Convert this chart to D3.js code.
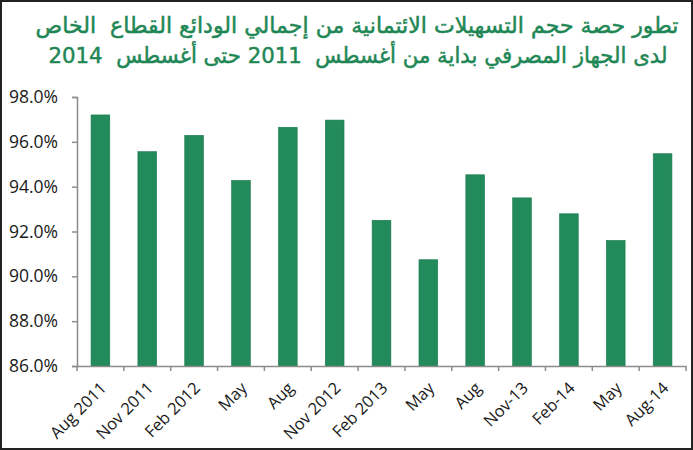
<!DOCTYPE html>
<html><head><meta charset="utf-8">
<script src="https://cdn.jsdelivr.net/npm/d3@7"></script>
<style>
html,body{margin:0;padding:0;background:#fff;}
svg{display:block;}
</style></head>
<body>
<script>
const categories = ["Aug 2011","Nov 2011","Feb 2012","May","Aug","Nov 2012","Feb 2013","May","Aug","Nov-13","Feb-14","May","Aug-14"];
const values = [97.2, 95.56, 96.29, 94.28, 96.65, 96.97, 92.5, 90.74, 94.53, 93.5, 92.79, 91.6, 95.47];
const yTicks = [86, 88, 90, 92, 94, 96, 98];
const titleLines = ["تطور حصة حجم التسهيلات الائتمانية من إجمالي الودائع القطاع  الخاص", "لدى الجهاز المصرفي بداية من أغسطس  2011 حتى أغسطس  2014"];

const W = 693, H = 450;
const svg = d3.select("body").append("svg").attr("width", W).attr("height", H);
svg.append("rect").attr("x",1).attr("y",1).attr("width",W-2).attr("height",H-2)
  .attr("fill","#fff").attr("stroke","#222").attr("stroke-width",2);

const green = "#238a5b";
const x = d3.scaleBand().domain(d3.range(categories.length)).range([77, 686]).paddingInner(0.6).paddingOuter(0.3);
const y = d3.scaleLinear().domain([86, 98]).range([366, 97]);

// title
const titleGeom = [{cx: 357, y: 33, len: 643}, {cx: 358, y: 63, len: 619}];
svg.append("g").selectAll("text").data(titleLines).join("text")
  .attr("x", (d,i)=>titleGeom[i].cx).attr("y", (d,i)=>titleGeom[i].y)
  .attr("text-anchor","middle").attr("direction","rtl")
  .style("white-space","pre")
  .attr("textLength",(d,i)=>titleGeom[i].len).attr("lengthAdjust","spacingAndGlyphs")
  .attr("font-family","DejaVu Sans").attr("font-weight","normal").attr("font-size", 22)
  .attr("fill", "#1f8755").attr("stroke","#1f8755").attr("stroke-width",0.5).text(d=>d);

// bars
svg.append("g").selectAll("rect").data(values).join("rect")
  .attr("x", (d,i)=>x(i)).attr("width", x.bandwidth())
  .attr("y", d=>y(d)).attr("height", d=>y(86)-y(d))
  .attr("fill", green).attr("stroke","#1b7a4e").attr("stroke-width",0.6);

// y axis
const yAxis = svg.append("g").attr("transform","translate(77,0)")
  .call(d3.axisLeft(y).tickValues(yTicks).tickSize(5).tickPadding(14).tickFormat(d=>d.toFixed(1)+"%"));
yAxis.select(".domain").attr("stroke","#8c8c8c").attr("stroke-width",1.5);
yAxis.selectAll(".tick line").attr("stroke","#8c8c8c").attr("stroke-width",1.5);
yAxis.selectAll("text").attr("font-family","Open Sans").attr("font-size",17.5).attr("fill","#1a1a1a");

// x axis
const xAxis = svg.append("g").attr("transform","translate(0,366)")
  .call(d3.axisBottom(x).tickSize(0).tickPadding(0).tickFormat(i=>categories[i]));
xAxis.select(".domain").attr("stroke","#8c8c8c").attr("stroke-width",1.5);
xAxis.selectAll("text")
  .attr("font-family","Open Sans").attr("font-size",16.5).attr("fill","#1a1a1a")
  .attr("text-anchor","end").attr("dy","0.35em")
  .attr("transform","translate(3,19) rotate(-45)");
// boundary ticks
const step = x.step();
const bounds = d3.range(categories.length+1).map(i => i < categories.length ? x(i) - step*0.3 : x(i-1) + x.bandwidth() + step*0.3);
svg.append("g").selectAll("line").data(bounds).join("line")
  .attr("x1", d=>d).attr("x2", d=>d).attr("y1", 366).attr("y2", 371)
  .attr("stroke","#8c8c8c").attr("stroke-width",1.5);
</script>
</body></html>
